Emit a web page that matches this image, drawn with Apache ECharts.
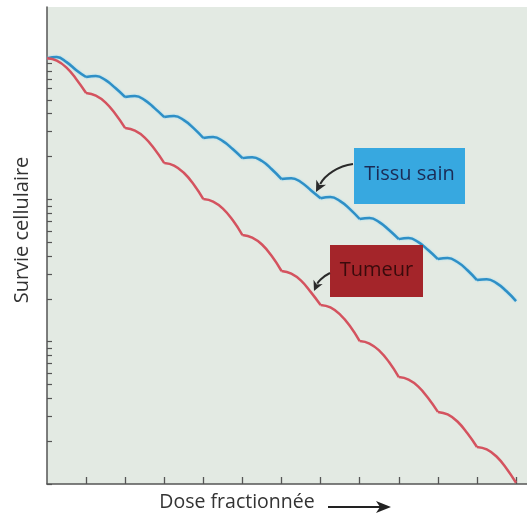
<!DOCTYPE html>
<html>
<head>
<meta charset="utf-8">
<script src="https://cdn.jsdelivr.net/npm/echarts@6/dist/echarts.min.js"></script>
<style>
html,body{margin:0;padding:0;background:#ffffff;}
#main{width:527px;height:515px;}
</style>
</head>
<body>
<div id="main"></div>
<script>
// Dose (fractions); cusps at integer doses
const doses = [
  0, 0.25, 0.5, 0.75, 1, 1.25, 1.5, 1.75, 2, 2.25, 2.5, 2.75,
  3, 3.25, 3.5, 3.75, 4, 4.25, 4.5, 4.75, 5, 5.25, 5.5, 5.75,
  6, 6.25, 6.5, 6.75, 7, 7.25, 7.5, 7.75, 8, 8.25, 8.5, 8.75,
  9, 9.25, 9.5, 9.75, 10, 10.25, 10.5, 10.75, 11, 11.25, 11.5, 11.75, 12
];
const tissuSain = [
  0.98, 1.0, 0.922, 0.810,
  0.724, 0.736, 0.689, 0.606,
  0.524, 0.532, 0.499, 0.438,
  0.379, 0.385, 0.361, 0.317,
  0.270, 0.274, 0.257, 0.226,
  0.195, 0.198, 0.186, 0.163,
  0.139, 0.141, 0.132, 0.116,
  0.102, 0.1038, 0.0973, 0.0855,
  0.0728, 0.0739, 0.0693, 0.0609,
  0.0526, 0.0535, 0.0501, 0.0441,
  0.0381, 0.0387, 0.0363, 0.0319,
  0.0271, 0.0275, 0.0258, 0.0227,
  0.0193
];
const tumeur = [
  0.98, 0.945, 0.844, 0.700,
  0.559, 0.536, 0.479, 0.398,
  0.317, 0.304, 0.272, 0.226,
  0.180, 0.173, 0.154, 0.128,
  0.1005, 0.0966, 0.0862, 0.0716,
  0.0562, 0.0539, 0.0482, 0.0400,
  0.0314, 0.0301, 0.0269, 0.0223,
  0.0181, 0.0174, 0.0155, 0.0129,
  0.0101, 0.00971, 0.00866, 0.00720,
  0.00564, 0.00542, 0.00484, 0.00402,
  0.00321, 0.00308, 0.00275, 0.00228,
  0.00182, 0.00175, 0.00156, 0.00129,
  0.00102
];
const xTicks = [1, 2, 3, 4, 5, 6, 7, 8, 9, 10, 11, 12];
const yTicks = [
  1, 0.9, 0.8, 0.7, 0.6, 0.5, 0.4, 0.3, 0.2,
  0.1, 0.09, 0.08, 0.07, 0.06, 0.05, 0.04, 0.03, 0.02,
  0.01, 0.009, 0.008, 0.007, 0.006, 0.005, 0.004, 0.003, 0.002, 0.001
];
const labels = { y: 'Survie cellulaire', x: 'Dose fractionnée', sain: 'Tissu sain', tumeur: 'Tumeur' };

// Build segmented data: each fraction is its own smooth arc, cusps between
function segmented(vals) {
  const out = [];
  for (let i = 0; i < doses.length; i++) {
    out.push([doses[i], vals[i]]);
    if (i > 0 && i < doses.length - 1 && doses[i] % 1 === 0) {
      out.push([doses[i], '-']);
      out.push([doses[i], vals[i]]);
    }
  }
  return out;
}

const chart = echarts.init(document.getElementById('main'), null, { renderer: 'canvas' });
const FONT = '"Open Sans", "Noto Sans", sans-serif';

function arrow(x0, y0, c1x, c1y, c2x, c2y, x1, y1, hl, hw) {
  const dx = x1 - c2x, dy = y1 - c2y;
  const len = Math.sqrt(dx * dx + dy * dy);
  const ux = dx / len, uy = dy / len;
  const bx = x1 - ux * hl, by = y1 - uy * hl;
  const px = -uy, py = ux;
  return [
    { type: 'bezierCurve', shape: { x1: x0, y1: y0, cpx1: c1x, cpy1: c1y, cpx2: c2x, cpy2: c2y, x2: bx + ux * 2, y2: by + uy * 2 },
      style: { stroke: '#2a2a2a', lineWidth: 2, fill: null }, z: 100 },
    { type: 'polygon', shape: { points: [[x1, y1], [bx + px * hw, by + py * hw], [bx + ux * 3, by + uy * 3], [bx - px * hw, by - py * hw]] },
      style: { fill: '#2a2a2a' }, z: 100 }
  ];
}

const graphics = [
  { type: 'text', x: 22, y: 230, rotation: Math.PI / 2,
    style: { text: labels.y, font: '20px ' + FONT, fill: '#333', align: 'center', verticalAlign: 'middle' } },
  { type: 'text', x: 237, y: 502,
    style: { text: labels.x, font: '19.5px ' + FONT, fill: '#333', align: 'center', verticalAlign: 'middle' } },
  { type: 'line', shape: { x1: 328, y1: 507, x2: 381, y2: 507 }, style: { stroke: '#222', lineWidth: 2 } },
  { type: 'polygon', shape: { points: [[391, 507], [376, 501], [380, 507], [376, 513]] }, style: { fill: '#222' } },
  { type: 'rect', shape: { x: 354, y: 148, width: 111, height: 56 }, style: { fill: '#37a8e0' }, z: 90 },
  { type: 'text', x: 409.5, y: 174, z: 91,
    style: { text: labels.sain, font: '20px ' + FONT, fill: '#1b2b55', align: 'center', verticalAlign: 'middle' } },
  { type: 'rect', shape: { x: 330, y: 245, width: 93, height: 52 }, style: { fill: '#a4252a' }, z: 90 },
  { type: 'text', x: 376.5, y: 270, z: 91,
    style: { text: labels.tumeur, font: '20px ' + FONT, fill: '#3a0b0c', align: 'center', verticalAlign: 'middle' } }
].concat(
  arrow(353, 164, 338, 166, 325, 175, 316, 192, 11, 5.5),
  arrow(330, 273, 322, 277, 318, 282, 314, 291, 10, 5)
);

chart.setOption({
  animation: false,
  backgroundColor: '#ffffff',
  grid: { left: 47, right: 0, top: 7, bottom: 31, show: true, backgroundColor: '#e3eae3', borderWidth: 0 },
  xAxis: {
    type: 'value', min: 0, max: 12.28, interval: 1,
    axisLine: { show: true, lineStyle: { color: '#555', width: 1.5 } },
    axisTick: { show: true, inside: true, length: 7, customValues: xTicks, lineStyle: { color: '#555', width: 1.3 } },
    axisLabel: { show: false },
    splitLine: { show: false }
  },
  yAxis: {
    type: 'log', logBase: 10, min: 0.001, max: 2.25,
    axisLine: { show: true, lineStyle: { color: '#555', width: 1.5 } },
    axisTick: { show: true, inside: true, length: 5, customValues: yTicks, lineStyle: { color: '#555', width: 1.2 } },
    axisLabel: { show: false },
    splitLine: { show: false }
  },
  series: [
    {
      name: labels.sain, type: 'line', data: segmented(tissuSain), smooth: 0.45, showSymbol: false, connectNulls: false,
      lineStyle: { color: '#2f8fc6', width: 2.5, shadowColor: 'rgba(140,215,245,0.9)', shadowBlur: 2 }
    },
    {
      name: labels.tumeur, type: 'line', data: segmented(tumeur), smooth: 0.45, showSymbol: false, connectNulls: false,
      lineStyle: { color: '#d4535f', width: 2.5 }
    }
  ],
  graphic: graphics
});
</script>
</body>
</html>
